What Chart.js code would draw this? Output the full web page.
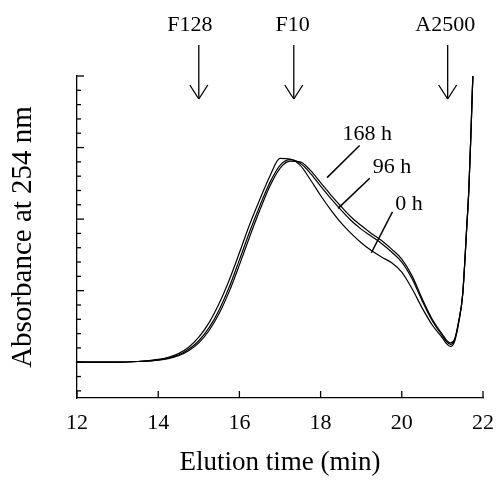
<!DOCTYPE html>
<html>
<head>
<meta charset="utf-8">
<script src="https://cdn.jsdelivr.net/npm/chart.js@4/dist/chart.umd.min.js"></script>
<style>
  body { margin: 0; background: #fff; }
  #wrap { width: 497px; height: 481px; }
</style>
</head>
<body>
<div id="wrap"><canvas id="chart"></canvas></div>
<script>
// Tempo de eluição (min)
const elutionTime = [12, 12.5, 13, 13.5, 14, 14.25, 14.5, 14.75, 15, 15.25, 15.5, 15.75, 16, 16.25, 16.5, 16.75, 17, 17.25, 17.5, 17.75, 18, 18.25, 18.5, 18.75, 19, 19.25, 19.5, 19.75, 20, 20.25, 20.5, 20.75, 21, 21.1, 21.2, 21.3, 21.4, 21.5, 21.6, 21.65, 21.7, 21.75];

// Absorbância a 254 nm para cada tempo
const abs0h   = [0, 0, 0, 0.01, 0.04, 0.07, 0.12, 0.21, 0.35, 0.55, 0.82, 1.15, 1.53, 1.92, 2.27, 2.60, 2.85, 2.84, 2.75, 2.55, 2.33, 2.13, 1.95, 1.80, 1.67, 1.56, 1.47, 1.39, 1.26, 1.03, 0.76, 0.52, 0.34, 0.26, 0.22, 0.29, 0.55, 0.95, 1.89, 2.4, 3.15, 4.0];
const abs96h  = [0, 0, 0, 0.01, 0.03, 0.06, 0.10, 0.18, 0.30, 0.48, 0.73, 1.05, 1.43, 1.82, 2.18, 2.51, 2.75, 2.83, 2.78, 2.64, 2.46, 2.29, 2.13, 1.98, 1.86, 1.76, 1.66, 1.54, 1.40, 1.17, 0.86, 0.58, 0.37, 0.29, 0.25, 0.31, 0.56, 0.95, 1.89, 2.4, 3.15, 4.0];
const abs168h = [0, 0, 0, 0.01, 0.03, 0.05, 0.09, 0.16, 0.27, 0.44, 0.68, 0.99, 1.36, 1.75, 2.12, 2.46, 2.71, 2.81, 2.80, 2.68, 2.51, 2.34, 2.18, 2.03, 1.91, 1.80, 1.70, 1.58, 1.44, 1.21, 0.89, 0.60, 0.39, 0.31, 0.27, 0.32, 0.57, 0.95, 1.89, 2.4, 3.15, 4.0];

// Padrões (setas no topo)
const markerNames = ['F128', 'F10', 'A2500'];
const markerTimes = [15.0, 17.34, 21.13];
const markerLabelTimes = [14.78, 17.31, 21.07];

// Rótulos das curvas e linhas indicadoras
const curveLabels = ['168 h', '96 h', '0 h'];
const curveLabelPos = [[19.15, 3.10], [19.76, 2.65], [20.18, 2.13]];
const leaderFrom = [[18.96, 3.03], [19.21, 2.57], [19.77, 2.10]];
const leaderTo = [[18.16, 2.58], [18.43, 2.15], [19.25, 1.53]];

const FONT = "'Liberation Serif', 'Times New Roman', serif";

function toPoints(ys) {
  return elutionTime.map((t, i) => ({ x: t, y: ys[i] }));
}

function serie(ys) {
  return {
    data: toPoints(ys),
    borderColor: '#000',
    borderWidth: 1.2,
    pointRadius: 0,
    fill: false,
    cubicInterpolationMode: 'monotone'
  };
}

// Ticks internos, setas e rótulos
const anotacoes = {
  id: 'anotacoes',
  afterDraw(chart) {
    const { ctx, chartArea, scales: { x, y } } = chart;
    ctx.save();
    ctx.strokeStyle = '#000';
    ctx.fillStyle = '#000';
    ctx.lineWidth = 1.3;

    function line(x1, y1, x2, y2) {
      ctx.beginPath();
      ctx.moveTo(x1, y1);
      ctx.lineTo(x2, y2);
      ctx.stroke();
    }

    // ticks do eixo Y (para dentro)
    y.ticks.forEach(t => {
      const py = y.getPixelForValue(t.value);
      const major = Math.abs(t.value - Math.round(t.value)) < 1e-6;
      line(chartArea.left, py, chartArea.left + (major ? 7 : 4), py);
    });
    // ticks do eixo X (para dentro)
    x.ticks.forEach(t => {
      const px = x.getPixelForValue(t.value);
      line(px, chartArea.bottom, px, chartArea.bottom - 7);
    });

    // setas dos padrões
    ctx.font = '22px ' + FONT;
    ctx.textAlign = 'center';
    ctx.textBaseline = 'alphabetic';
    markerNames.forEach((name, i) => {
      const px = x.getPixelForValue(markerTimes[i]);
      const top = chartArea.top - 31;
      const bottom = chartArea.top + 23;
      line(px, top, px, bottom);
      line(px - 9, bottom - 14, px, bottom);
      line(px + 9, bottom - 14, px, bottom);
      ctx.fillText(name, x.getPixelForValue(markerLabelTimes[i]), chartArea.top - 45);
    });

    // rótulos das curvas
    ctx.lineWidth = 1.5;
    curveLabels.forEach((txt, i) => {
      line(x.getPixelForValue(leaderFrom[i][0]), y.getPixelForValue(leaderFrom[i][1]),
           x.getPixelForValue(leaderTo[i][0]), y.getPixelForValue(leaderTo[i][1]));
      ctx.fillText(txt, x.getPixelForValue(curveLabelPos[i][0]), y.getPixelForValue(curveLabelPos[i][1]));
    });
    ctx.restore();
  }
};

new Chart(document.getElementById('chart'), {
  type: 'line',
  data: {
    datasets: [serie(abs0h), serie(abs96h), serie(abs168h)]
  },
  options: {
    responsive: true,
    maintainAspectRatio: false,
    animation: false,
    devicePixelRatio: 1,
    layout: { padding: { top: 76, right: 14, left: 0, bottom: 0 } },
    plugins: { legend: { display: false }, tooltip: { enabled: false } },
    scales: {
      x: {
        type: 'linear',
        min: 12,
        max: 22,
        afterFit: s => { s.height = 83; s.paddingLeft = 0; s.paddingRight = 0; },
        grid: { display: false, drawTicks: false },
        border: { display: true, color: '#000', width: 1.3 },
        ticks: { stepSize: 2, color: '#000', font: { family: FONT, size: 22 }, padding: 12, maxRotation: 0 },
        title: { display: true, text: 'Elution time (min)', color: '#000', font: { family: FONT, size: 27 }, padding: { top: 0, bottom: 2 } }
      },
      y: {
        type: 'linear',
        min: -0.5,
        max: 4,
        afterFit: s => { s.width = 77; s.paddingTop = 0; s.paddingBottom = 0; },
        grid: { display: false, drawTicks: false },
        border: { display: true, color: '#000', width: 1.3 },
        ticks: { display: false, stepSize: 0.2, includeBounds: false },
        title: { display: true, text: 'Absorbance at 254 nm', color: '#000', font: { family: FONT, size: 29 }, padding: { top: 6, bottom: 0 } }
      }
    }
  },
  plugins: [anotacoes]
});
</script>
</body>
</html>
